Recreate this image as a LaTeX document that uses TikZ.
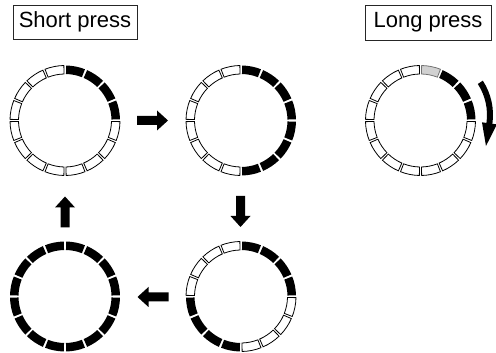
\documentclass[tikz,border=0pt]{standalone}
\usepackage{fontspec}
\setmainfont{Liberation Sans}
\tikzset{
  segon/.style={fill=black},
  segoff/.style={draw=black, line width=0.8pt, fill=white},
  seggray/.style={draw=black!55, line width=0.8pt, fill=black!18},
  labelbox/.style={draw=black!85, line width=0.9pt, minimum width=124pt, minimum height=34pt, inner sep=0pt, font=\fontsize{22}{24}\selectfont},
  pics/barrow/.style={code={\fill (-15.5pt,-4.5pt) -- (4.5pt,-4.5pt) -- (4.5pt,-10pt) -- (15.5pt,0pt) -- (4.5pt,10pt) -- (4.5pt,4.5pt) -- (-15.5pt,4.5pt) -- cycle;}}
}
\newcommand\drawring[2]{%
  \foreach \s [count=\i from 0] in {#2} {
    \pgfmathsetmacro\aa{90-\i*22.5-1.2}
    \pgfmathsetmacro\bb{90-(\i+1)*22.5+1.2}
    \path[\s] ([shift={(\aa:46.5pt)}]#1) arc[start angle=\aa, end angle=\bb, radius=46.5pt] -- ([shift={(\bb:55pt)}]#1) arc[start angle=\bb, end angle=\aa, radius=55pt] -- cycle;
  }%
}
\begin{document}
\begin{tikzpicture}[x=1pt,y=1pt]
\useasboundingbox (0,0) rectangle (496,353);
% labels
\node[labelbox] (short) at (75,331) {Short press};
\node[labelbox, minimum width=126pt, minimum height=35pt] (long) at (428,330.5) {Long press};
% ring centres
\coordinate (TL) at (65,232.5);
\coordinate (TM) at (241,232.5);
\coordinate (BR) at (241,56.5);
\coordinate (BL) at (65,56.5);
\coordinate (LP) at (420.5,232.5);
\drawring{TL}{segon,segon,segon,segon,segoff,segoff,segoff,segoff,segoff,segoff,segoff,segoff,segoff,segoff,segoff,segoff}
\drawring{TM}{segon,segon,segon,segon,segon,segon,segon,segon,segoff,segoff,segoff,segoff,segoff,segoff,segoff,segoff}
\drawring{BR}{segon,segon,segon,segon,segoff,segoff,segoff,segoff,segon,segon,segon,segon,segoff,segoff,segoff,segoff}
\drawring{BL}{segon,segon,segon,segon,segon,segon,segon,segon,segon,segon,segon,segon,segon,segon,segon,segon}
\drawring{LP}{seggray,segon,segon,segon,segoff,segoff,segoff,segoff,segoff,segoff,segoff,segoff,segoff,segoff,segoff,segoff}
% transition arrows
\coordinate (a1) at (152.5,232.5);
\coordinate (a2) at (240.5,141.5);
\coordinate (a3) at (153,56);
\coordinate (a4) at (65,141);
\path (a1) pic {barrow};
\path (a2) pic[rotate=-90] {barrow};
\path (a3) pic[rotate=180] {barrow};
\path (a4) pic[rotate=90] {barrow};
% long press curved arrow
\coordinate (LA) at (430,238);
\fill ([shift={(33:57pt)}]LA) arc[start angle=33, end angle=-8, radius=57pt]
  -- ([shift={(-8:52.5pt)}]LA) -- ([shift={(-29:64pt)}]LA) -- ([shift={(-8:67.5pt)}]LA)
  -- ([shift={(-8:63pt)}]LA) arc[start angle=-8, end angle=33, radius=63pt] -- cycle;
\end{tikzpicture}
\end{document}
